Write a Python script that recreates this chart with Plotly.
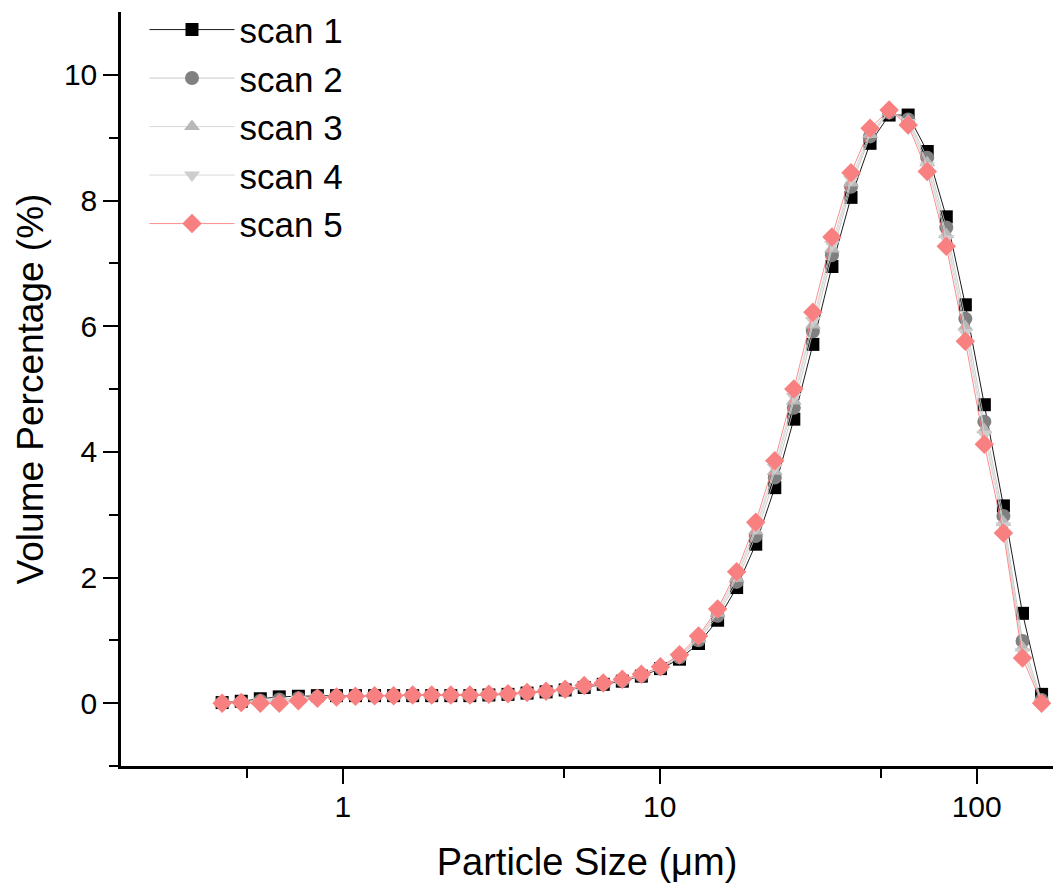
import plotly.graph_objects as go

# Particle size bins (µm)
size_um = [0.416, 0.478, 0.549, 0.630, 0.724, 0.831, 0.955, 1.096, 1.259, 1.446,
           1.661, 1.907, 2.191, 2.516, 2.889, 3.319, 3.812, 4.378, 5.028, 5.775,
           6.632, 7.617, 8.748, 10.05, 11.54, 13.25, 15.22, 17.48, 20.08, 23.06,
           26.48, 30.41, 34.93, 40.12, 46.07, 52.92, 60.77, 69.80, 80.17, 92.07,
           105.7, 121.4, 139.5, 160.2]

scan1 = [0.01, 0.03, 0.07, 0.10, 0.11, 0.12, 0.12, 0.12, 0.12, 0.12,
         0.12, 0.12, 0.12, 0.12, 0.13, 0.14, 0.16, 0.18, 0.21, 0.25,
         0.30, 0.35, 0.43, 0.55, 0.70, 0.95, 1.32, 1.84, 2.53, 3.43,
         4.52, 5.71, 6.95, 8.05, 8.91, 9.36, 9.36, 8.78, 7.74, 6.34,
         4.75, 3.14, 1.43, 0.14]
scan2 = [0.01, 0.02, 0.04, 0.06, 0.08, 0.10, 0.11, 0.12, 0.12, 0.12,
         0.12, 0.12, 0.12, 0.12, 0.13, 0.14, 0.16, 0.18, 0.21, 0.26,
         0.31, 0.36, 0.44, 0.56, 0.73, 1.00, 1.39, 1.93, 2.66, 3.59,
         4.70, 5.92, 7.13, 8.22, 9.02, 9.40, 9.29, 8.68, 7.57, 6.12,
         4.48, 2.98, 0.99, 0.05]
scan3 = [0.00, 0.02, 0.03, 0.04, 0.07, 0.10, 0.11, 0.11, 0.12, 0.12,
         0.13, 0.13, 0.13, 0.13, 0.14, 0.15, 0.17, 0.19, 0.22, 0.27,
         0.31, 0.37, 0.45, 0.57, 0.74, 1.02, 1.43, 1.99, 2.74, 3.69,
         4.81, 6.02, 7.23, 8.28, 9.05, 9.41, 9.27, 8.60, 7.46, 5.99,
         4.35, 2.88, 0.88, 0.03]
scan4 = [0.00, 0.01, 0.02, 0.03, 0.06, 0.09, 0.10, 0.11, 0.12, 0.12,
         0.13, 0.13, 0.13, 0.13, 0.14, 0.15, 0.17, 0.19, 0.22, 0.27,
         0.32, 0.37, 0.45, 0.57, 0.75, 1.04, 1.46, 2.03, 2.79, 3.75,
         4.88, 6.09, 7.30, 8.34, 9.09, 9.42, 9.24, 8.55, 7.39, 5.90,
         4.28, 2.82, 0.82, 0.02]
scan5 = [0.00, 0.01, 0.00, 0.00, 0.04, 0.08, 0.10, 0.11, 0.12, 0.12,
         0.13, 0.13, 0.13, 0.13, 0.14, 0.15, 0.17, 0.19, 0.22, 0.28,
         0.32, 0.38, 0.46, 0.58, 0.77, 1.07, 1.50, 2.09, 2.88, 3.86,
         5.00, 6.22, 7.42, 8.44, 9.15, 9.44, 9.20, 8.46, 7.27, 5.76,
         4.12, 2.71, 0.72, 0.00]

names = ["scan 1", "scan 2", "scan 3", "scan 4", "scan 5"]
series = [scan1, scan2, scan3, scan4, scan5]
marker_colors = ["#000000", "#808080", "#b8b8b8", "#cdcdcd", "#f98080"]
line_colors = ["#000000", "#c4c4c4", "#d4d4d4", "#d4d4d4", "#f98080"]
symbols = ["square", "circle", "triangle-up", "triangle-down", "diamond"]
sizes = [13, 14, 14, 14, 15]

font_family = "Liberation Sans, Arial, sans-serif"

fig = go.Figure()
for i, (nm, ys) in enumerate(zip(names, series)):
    fig.add_trace(go.Scatter(
        x=size_um, y=ys, name=nm, mode="lines+markers",
        legendgroup=nm,
        line=dict(color=line_colors[i], width=0.9),
        marker=dict(symbol=symbols[i], size=sizes[i], color=marker_colors[i],
                    line=dict(width=0)),
    ))

fig.update_layout(
    width=1053, height=890,
    margin=dict(l=121, r=0, t=12, b=124),
    paper_bgcolor="white", plot_bgcolor="white",
    font=dict(family=font_family, color="black", size=29),
    showlegend=True,
    legend=dict(
        x=0.0252, y=1.0155, xanchor="left", yanchor="top",
        bgcolor="rgba(0,0,0,0)",
        font=dict(size=35, family=font_family, color="black"),
        tracegroupgap=0,
        itemwidth=85,
    ),
    xaxis=dict(
        type="log", range=[-0.70, 2.2407],
        tickmode="array", tickvals=[1, 10, 100], ticktext=["1", "10", "100"],
        ticks="outside", ticklen=15, tickwidth=2, tickcolor="black",
        showline=True, linewidth=2.5, linecolor="black",
        showgrid=False, zeroline=False,
        tickfont=dict(size=30),
        ticklabelstandoff=-3,
        minor=dict(tickmode="array", tickvals=[0.5, 5, 50], ticks="outside",
                   ticklen=9, tickwidth=2, tickcolor="black", showgrid=False),
        title=dict(text="Particle Size (\u03bcm)", font=dict(size=38), standoff=27),
    ),
    yaxis=dict(
        range=[-1, 11],
        tickmode="array", tickvals=[0, 2, 4, 6, 8, 10],
        ticks="outside", ticklen=15, tickwidth=2, tickcolor="black",
        showline=True, linewidth=2.5, linecolor="black",
        showgrid=False, zeroline=False,
        tickfont=dict(size=30),
        minor=dict(tickmode="array", tickvals=[-1, 1, 3, 5, 7, 9], ticks="outside",
                   ticklen=9, tickwidth=2, tickcolor="black", showgrid=False),
        title=dict(text="Volume Percentage (%)", font=dict(size=37), standoff=9),
    ),
)

fig.write_html("out.html")
